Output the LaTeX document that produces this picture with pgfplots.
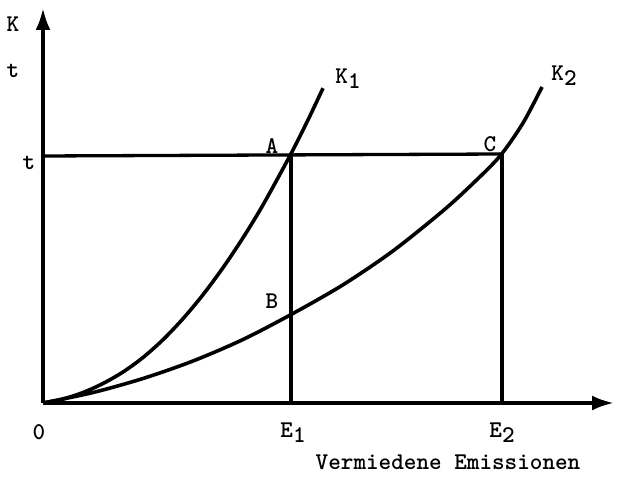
\documentclass[border=0pt]{standalone}
\usepackage{pgfplots}
\pgfplotsset{compat=1.18}
\usetikzlibrary{arrows.meta}
\newcommand{\sub}[1]{\raisebox{-0.5ex}{#1}}
\begin{document}
\begin{tikzpicture}
\begin{axis}[
  x=1pt, y=1pt,
  xmin=-43, xmax=574, ymin=-73, ymax=403,
  axis lines=none, clip=false,
  every axis plot/.append style={line width=3.6pt, black, mark=none},
  font=\ttfamily\bfseries\fontsize{24}{27}\selectfont,
]
\path (axis cs:-43,-73) rectangle (axis cs:574,403);
% axes
\draw[line width=3.6pt, -{Latex[length=22pt,width=15pt]}] (axis cs:0,0) -- (axis cs:0,395);
\draw[line width=3.6pt, -{Latex[length=22pt,width=15pt]}] (axis cs:0,0) -- (axis cs:571,0);
% K1
\addplot[smooth] coordinates {(0,0) (20,4) (40,10.5) (60,19.5) (80,31) (100,45.5) (120,63.3) (140,84.3) (160,108.3) (180,135.3) (200,165.2) (220,198.1) (247,247.4) (265,283.1) (280,314.8)};
% K2
\addplot[smooth] coordinates {(0,0) (50,10.5) (100,24.5) (150,42) (200,63.5) (249,89) (300,118.2) (350,152.1) (400,192.2) (430,219.6) (457,247) (480,280) (499,316)};
% t line and verticals
\addplot[line width=3.3pt] coordinates {(0,247) (459,249)};
\addplot[line width=3.3pt] coordinates {(248,0) (248,247)};
\addplot[line width=3.3pt] coordinates {(459,0) (459,249)};
% labels
\node at (axis cs:-30,379) {K};
\node at (axis cs:-30,332) {t};
\node at (axis cs:-14,240) {t};
\node at (axis cs:-4,-29) {0};
\node[inner sep=0pt] at (axis cs:250,-30) {E\sub{1}};
\node[inner sep=0pt] at (axis cs:459,-30) {E\sub{2}};
\node[inner sep=0pt] at (axis cs:405,-59) {Vermiedene Emissionen};
\node at (axis cs:305,324) {K\sub{1}};
\node at (axis cs:521,327) {K\sub{2}};
\node at (axis cs:229,257) {A};
\node at (axis cs:229,102) {B};
\node at (axis cs:447,259) {C};
\end{axis}
\end{tikzpicture}
\end{document}
